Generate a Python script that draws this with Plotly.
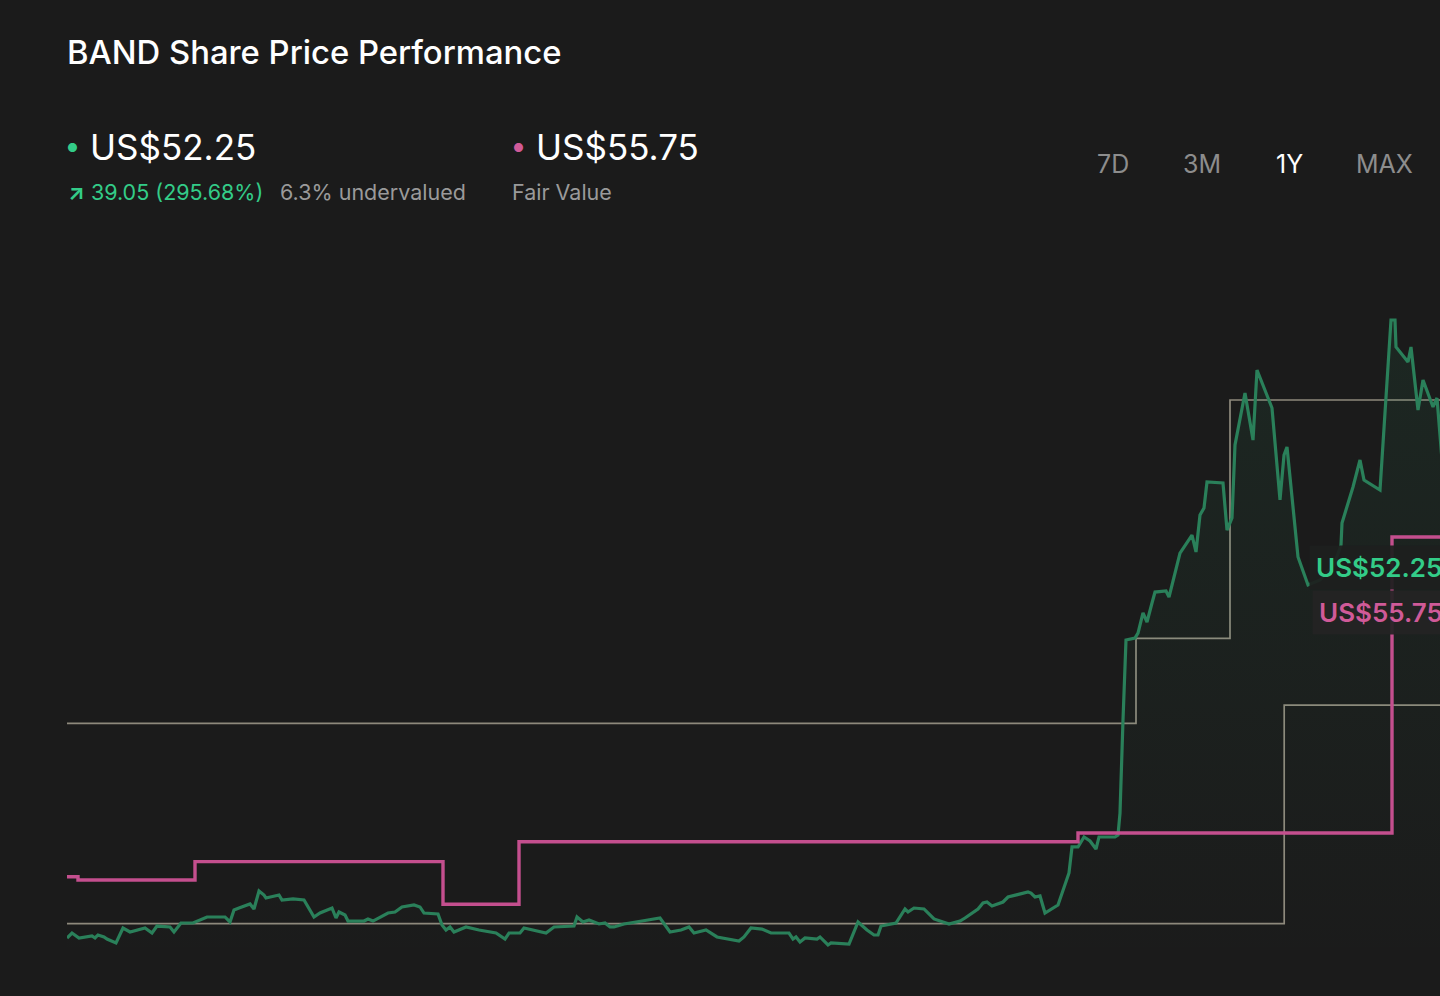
import pandas as pd
import plotly.graph_objects as go

START = pd.Timestamp("2024-09-23")

# share price (day offset from START, US$)
price_days = [
    0, 1.25, 3, 4.75, 6.25, 7, 7.75, 9.25, 10, 12.25, 14, 15.75, 19.5, 21.25,
    22.5, 25.75, 26.75, 28.5, 31.5, 35, 39.5, 40.75, 41.75, 43, 45.75, 46.75,
    48, 49.25, 49.75, 53, 53.75, 56.5, 59.25, 61.75, 63.25, 66.25, 67.25, 68,
    69.5, 70.25, 74.25, 75.25, 76.5, 80.25, 82, 83.75, 86.75, 88.25, 89.25,
    92.75, 93.75, 94.75, 95.75, 96.75, 99.75, 103, 107.25, 109.5, 110.5,
    113.25, 114.25, 119.75, 121.75, 126.75, 127.5, 129, 130.5, 133, 134.5,
    135.75, 136.75, 139.25, 141, 143.75, 148.25, 150.75, 153.5, 155.5, 156.75,
    159.75, 162.5, 168, 169.25, 171, 173.75, 176, 180.5, 181.5, 182.25,
    183.25, 184.5, 187.5, 188.25, 190.25, 191, 195.5, 197.75, 200, 201.75,
    202.75, 203.5, 207.25, 209.5, 210.25, 211.75, 214.25, 216.75, 220.5,
    223.25, 224.5, 227.75, 229, 230, 231.25, 234, 235.25, 240.25, 241, 242,
    243.25, 244.5, 247.75, 250.5, 251.25, 252.75, 254.25, 255.75, 257.25, 258,
    262, 262.75, 263.25, 264, 264.75, 267, 267.75, 269, 270, 271.25, 272,
    274.75, 275.5, 278.25, 281.25, 282.25, 283.25, 284.25, 285, 289, 290,
    291.25, 292, 294.5, 296.5, 297.5, 301.25, 303.25, 304.25, 305, 307.75,
    310.25, 313.25, 316.75, 318.5, 318.75, 321.5, 323.25, 324.25, 328.25,
    329.5, 331, 332, 332.25, 335.25, 336, 337.75, 339, 341.5, 342.5, 343.75,
    346.25, 348.75, 350.75,
]
price = [
    13.20, 13.73, 13.20, 13.31, 13.41, 13.20, 13.52, 13.31, 13.09, 12.67,
    14.26, 13.84, 14.26, 13.73, 14.47, 14.37, 13.84, 14.79, 14.79, 15.43,
    15.43, 14.90, 16.17, 16.38, 16.81, 16.28, 18.19, 17.76, 17.44, 17.76,
    17.23, 17.34, 17.23, 15.43, 15.85, 16.38, 15.32, 15.96, 15.64, 15.00,
    15.00, 15.22, 15.00, 15.85, 15.96, 16.49, 16.70, 16.49, 15.85, 15.75,
    14.58, 14.05, 14.37, 13.84, 14.37, 14.05, 13.73, 13.09, 13.73, 13.73,
    14.26, 13.73, 14.37, 14.47, 15.43, 14.90, 15.11, 14.69, 14.79, 14.37,
    14.37, 14.69, 14.79, 15.00, 15.32, 13.84, 14.05, 14.37, 13.73, 14.05,
    13.31, 12.88, 13.31, 14.26, 14.15, 13.73, 13.73, 13.09, 13.31, 12.78,
    13.20, 13.09, 13.31, 12.46, 12.67, 12.56, 14.90, 14.05, 13.52, 13.52,
    14.47, 14.79, 16.28, 15.96, 16.38, 16.28, 15.22, 14.69, 15.00, 15.32,
    16.28, 16.91, 17.02, 16.60, 17.02, 17.55, 18.08, 17.97, 17.55, 17.66,
    15.85, 16.70, 20.10, 22.86, 22.86, 23.92, 23.49, 22.64, 23.92, 23.92,
    24.13, 26.46, 36.33, 44.82, 45.03, 45.56, 47.69, 46.73, 48.75, 49.91,
    50.02, 49.38, 54.05, 55.96, 54.16, 58.08, 58.83, 61.59, 61.48, 56.49,
    57.77, 65.51, 71.03, 66.04, 73.47, 69.44, 59.68, 64.45, 65.30, 53.63,
    50.66, 51.19, 52.78, 54.90, 57.24, 61.06, 63.92, 61.80, 60.74, 69.23,
    78.78, 78.78, 75.91, 74.32, 75.91, 69.23, 72.41, 69.55, 70.50, 63.92,
    59.68, 53.31, 52.25,
]

# fair value estimate (step series)
fair_days = [0, 2.75, 32, 94, 113, 252.75, 331.25, 365]
fair_value = [19.70, 19.35, 21.30, 16.78, 23.42, 24.34, 55.75, 55.75]

# analyst targets (step series)
low_days = [0, 304.3, 365]
low_target = [14.72, 37.92, 37.92]
high_days = [0, 267.25, 290.75, 365]
high_target = [35.98, 45.00, 70.29, 70.29]

last_price = 52.25
last_fair = 55.75
change = 39.05
change_pct = 295.68
undervalued_pct = 6.3
periods = ["7D", "3M", "1Y", "MAX"]
active_period = "1Y"

BG = "#1b1b1b"
GREEN_LINE = "#2a805a"
GREEN_TEXT = "#33cc88"
PINK = "#c44f8e"
PINK_TEXT = "#d05a98"
GRAY_LINE = "#8e897c"
GRAY_TEXT = "#9a9a9a"
FONT = "Inter, Roboto, sans-serif"

W, H = 1440, 996
ML, MR, MT, MB = 67, 0, 220, 16


def to_dates(days):
    return [START + pd.to_timedelta(d, unit="D") for d in days]


def px_x(px):
    return (px - ML) / (W - ML - MR)


def px_y(py):
    return (H - MB - py) / (H - MT - MB)


fig = go.Figure()

fig.add_trace(go.Scatter(
    x=to_dates(low_days), y=low_target, mode="lines", line_shape="hv",
    line=dict(color=GRAY_LINE, width=1.7), name="Analyst Low", hoverinfo="skip",
))
fig.add_trace(go.Scatter(
    x=to_dates(high_days), y=high_target, mode="lines", line_shape="hv",
    line=dict(color=GRAY_LINE, width=1.7), name="Analyst High", hoverinfo="skip",
))
fig.add_trace(go.Scatter(
    x=to_dates(price_days), y=price, mode="lines",
    line=dict(color=GREEN_LINE, width=3.2), name="Share Price",
    fill="tozeroy",
    fillgradient=dict(
        type="vertical",
        colorscale=[[0, "rgba(47,207,133,0)"], [1, "rgba(47,207,133,0.07)"]],
        start=10, stop=80,
    ),
))
fig.add_trace(go.Scatter(
    x=to_dates(fair_days), y=fair_value, mode="lines", line_shape="hv",
    line=dict(color=PINK, width=3.4), name="Fair Value",
))

annotations = [
    # header: price
    dict(x=px_x(72), y=px_y(147), text="●", font=dict(size=12, color=GREEN_TEXT),
         xanchor="center"),
    dict(x=px_x(88), y=px_y(147), text=f"US${last_price:.2f}",
         font=dict(size=35, color="#ffffff")),
    dict(x=px_x(66), y=px_y(192),
         text=f"<b>↗</b> {change:.2f} ({change_pct:.2f}%)",
         font=dict(size=21.5, color=GREEN_TEXT)),
    dict(x=px_x(278), y=px_y(192), text=f"{undervalued_pct}% undervalued",
         font=dict(size=21.5, color=GRAY_TEXT)),
    # header: fair value
    dict(x=px_x(518), y=px_y(147), text="●", font=dict(size=12, color=PINK_TEXT),
         xanchor="center"),
    dict(x=px_x(534), y=px_y(147), text=f"US${last_fair:.2f}",
         font=dict(size=35, color="#ffffff")),
    dict(x=px_x(510), y=px_y(192), text="Fair Value",
         font=dict(size=21.5, color=GRAY_TEXT)),
]

for label, cx in zip(periods, [1113, 1202, 1289, 1384]):
    annotations.append(dict(
        x=px_x(cx), y=px_y(164), text=label, xanchor="center",
        font=dict(size=25, color="#ffffff" if label == active_period else "#8d8d8d"),
    ))

# end-of-line value tags
annotations.append(dict(
    x=px_x(1309), y=last_price, yref="y", yshift=3, text=f"US${last_price:.2f}",
    font=dict(size=26, color=GREEN_TEXT, weight=600),
    bgcolor="rgba(29,31,30,0.93)", borderpad=6,
))
annotations.append(dict(
    x=px_x(1312), y=last_price, yref="y", yshift=-42, text=f"US${last_fair:.2f}",
    font=dict(size=26, color=PINK_TEXT, weight=600),
    bgcolor="rgba(36,36,36,0.93)", borderpad=6,
))

for a in annotations:
    a.setdefault("xref", "paper")
    a.setdefault("yref", "paper")
    a.setdefault("xanchor", "left")
    a.setdefault("yanchor", "middle")
    a["showarrow"] = False

fig.update_layout(
    width=W,
    height=H,
    paper_bgcolor=BG,
    plot_bgcolor=BG,
    margin=dict(l=ML, r=MR, t=MT, b=MB, pad=0),
    font=dict(family=FONT, color="#ffffff"),
    title=dict(
        text="BAND Share Price Performance",
        xref="container", yref="container",
        x=ML / W, y=1 - 53 / H, xanchor="left", yanchor="middle",
        font=dict(size=32.8, color="#ffffff", weight=500),
    ),
    showlegend=False,
    hovermode="x unified",
    xaxis=dict(
        type="date",
        range=[START, START + pd.to_timedelta(343.25, unit="D")],
        showgrid=False, zeroline=False, showticklabels=False, showline=False,
    ),
    yaxis=dict(
        range=[8.743, 89.39],
        showgrid=False, zeroline=False, showticklabels=False, showline=False,
    ),
    annotations=annotations,
)

fig.write_html(
    "out.html",
    config={"displayModeBar": False},
    post_script="document.body.style.margin='0';document.body.style.background='#1b1b1b';",
)
